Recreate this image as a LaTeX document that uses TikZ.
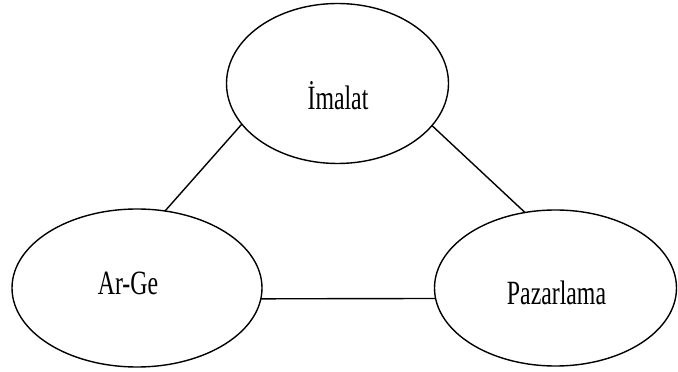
\documentclass[tikz,border=0pt]{standalone}
\usepackage{fontspec}
\newfontfamily\lblfont[FakeStretch=0.7]{Liberation Serif}
\usetikzlibrary{shapes.geometric}

\tikzset{
  unit/.style={draw=black, line width=1.4pt, ellipse, inner sep=0pt, outer sep=0pt},
  unitname/.style={inner sep=0pt, anchor=base, font=\lblfont\fontsize{34}{40}\selectfont},
  link/.style={draw=black, line width=1.4pt}
}

\begin{document}
\begin{tikzpicture}[x=1pt, y=1pt]
  \useasboundingbox (0,0) rectangle (678,372);

  % the three functions
  \node[unit, minimum width=222pt, minimum height=160pt] (imalat) at (337.5,288.5) {};
  \node[unit, minimum width=250pt, minimum height=158pt] (arge) at (137,84) {};
  \node[unit, minimum width=242pt, minimum height=156pt] (pazar) at (555.5,84) {};

  % their names
  \node[unitname] (timalat) at (338,262) {İmalat};
  \node[unitname] (targe) at (128,77) {Ar-Ge};
  \node[unitname] (tpazar) at (556.5,67) {Pazarlama};

  % links between them
  \draw[link] (imalat.203) -- (arge.70);
  \draw[link] (imalat.-24) -- (pazar.112);
  \draw[link] (arge.-5.5) -- (pazar.185.7);
\end{tikzpicture}
\end{document}
